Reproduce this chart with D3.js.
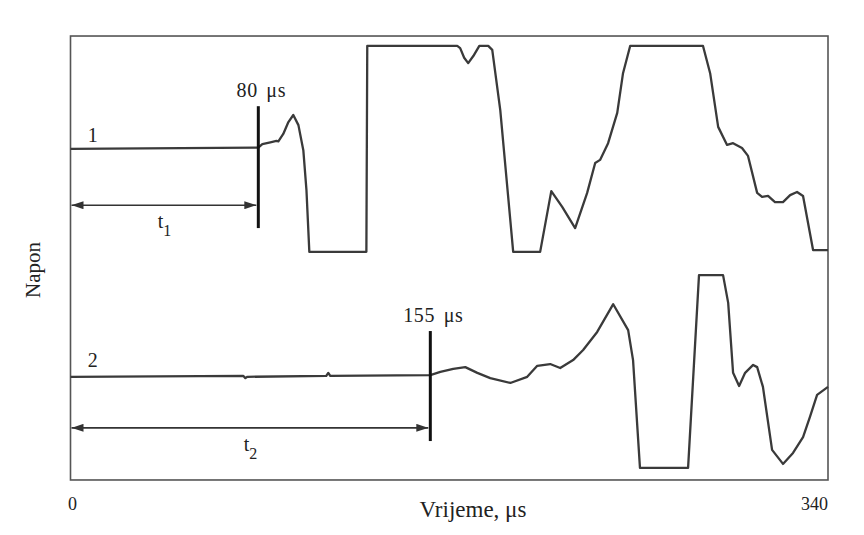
<!DOCTYPE html>
<html>
<head>
<meta charset="utf-8">
<script src="https://cdn.jsdelivr.net/npm/d3@7"></script>
<style>
  body { margin: 0; background: #fff; }
  text { font-family: "Liberation Serif", "DejaVu Serif", serif; fill: #222; }
</style>
</head>
<body>
<div id="container"></div>
<script>
"use strict";

const width = 864;
const height = 535;

// time in microseconds, voltage in arbitrary units (0..100)
const trace1 = [
  [0, 74.8], [84.3, 75.1], [86.1, 75.9], [89.7, 76.3], [92.4, 76.6], [93.3, 76.5],
  [95.5, 78.2], [97.8, 80.9], [100.0, 82.5], [102.3, 80.2], [104.5, 74.5],
  [105.9, 65.5], [107.2, 51.4], [132.8, 51.4], [133.2, 98.2], [173.6, 98.2],
  [174.9, 97.7], [176.7, 95.5], [178.5, 94.3], [180.8, 95.9], [183.5, 98.2],
  [187.5, 98.2], [189.3, 97.3], [192.9, 83.6], [198.7, 51.4], [210.8, 51.4],
  [215.8, 65.2], [220.7, 61.6], [226.5, 56.8], [231.9, 64.8], [235.5, 71.6],
  [237.7, 72.3], [241.3, 76.1], [245.4, 83.0], [248.0, 92.0], [251.2, 98.2],
  [283.9, 98.2], [287.1, 92.0], [290.7, 79.8], [294.7, 75.7], [297.4, 76.1],
  [301.4, 75.0], [304.1, 73.2], [308.2, 64.8], [310.4, 63.9], [313.1, 64.1],
  [316.2, 62.7], [319.8, 62.7], [323.0, 64.3], [326.1, 65.0], [328.8, 64.1],
  [333.3, 51.8], [340, 51.8]
];

const trace2 = [
  [0, 23.0], [77.6, 23.2], [78.5, 22.7], [79.4, 23.0], [114.8, 23.2],
  [115.7, 23.9], [116.6, 23.2], [161.5, 23.4], [166.0, 24.1], [171.8, 24.8],
  [177.2, 25.2], [182.6, 23.9], [188.4, 22.7], [197.4, 21.6], [205.0, 23.0],
  [209.5, 25.5], [215.3, 25.9], [219.8, 25.0], [225.6, 26.8], [230.1, 29.1],
  [236.4, 33.2], [243.6, 39.5], [250.3, 33.6], [252.5, 26.8], [255.6, 2.3],
  [277.2, 2.3], [282.1, 46.1], [292.9, 46.1], [295.2, 39.8], [297.4, 23.9],
  [300.1, 20.9], [302.8, 23.9], [306.4, 25.7], [308.2, 25.2], [310.8, 20.7],
  [314.9, 6.4], [319.8, 3.2], [324.3, 5.7], [328.8, 9.3], [331.9, 13.9],
  [335.1, 18.9], [340, 20.7]
];

const traceNames = ["1", "2"];
const traceLabelT = [10, 10];
const traceLabelV = [76.4, 25.2];

const markerT = [84.3, 161.5];
const markerLabels = ["80 μs", "155 μs"];
const markerTop = [84.5, 33.4];
const markerBottom = [56.8, 8.4];
const arrowV = [62.0, 11.4];
const intervalSub = ["1", "2"];

const xTicks = [0, 340];
const xTitle = "Vrijeme, μs";
const yTitle = "Napon";
const vMin = -0.45, vMax = 100.45;

const x = d3.scaleLinear().domain([0, 340]).range([70.5, 828]);
const y = d3.scaleLinear().domain([0, 100]).range([478, 38]);

const svg = d3.select("#container").append("svg")
  .attr("width", width)
  .attr("height", height);

// arrow heads
const defs = svg.append("defs");
defs.append("marker")
  .attr("id", "ah")
  .attr("viewBox", "0 0 12 8")
  .attr("refX", 12).attr("refY", 4)
  .attr("markerWidth", 12).attr("markerHeight", 8)
  .attr("markerUnits", "userSpaceOnUse")
  .attr("orient", "auto-start-reverse")
  .append("path")
  .attr("d", "M0,0 L12,4 L0,8 Z")
  .attr("fill", "#333");

// frame
svg.append("rect")
  .attr("x", x(0)).attr("y", y(vMax))
  .attr("width", x(340) - x(0))
  .attr("height", y(vMin) - y(vMax))
  .attr("fill", "none")
  .attr("stroke", "#555")
  .attr("stroke-width", 1.6);

// traces
const line = d3.line().x(d => x(d[0])).y(d => y(d[1]));
svg.selectAll(".trace")
  .data([trace1, trace2])
  .enter().append("path")
  .attr("class", "trace")
  .attr("d", line)
  .attr("fill", "none")
  .attr("stroke", "#3a3a3a")
  .attr("stroke-width", 2.3)
  .attr("stroke-linejoin", "round");

// trace numbers
svg.selectAll(".tname")
  .data(traceNames)
  .enter().append("text")
  .attr("x", (d, i) => x(traceLabelT[i]))
  .attr("y", (d, i) => y(traceLabelV[i]))
  .attr("text-anchor", "middle")
  .attr("font-size", 20)
  .text(d => d);

// arrival markers
markerT.forEach((t, i) => {
  svg.append("line")
    .attr("x1", x(t)).attr("x2", x(t))
    .attr("y1", y(markerTop[i])).attr("y2", y(markerBottom[i]))
    .attr("stroke", "#111")
    .attr("stroke-width", 3);

  svg.append("text")
    .attr("x", x(t) + 3)
    .attr("y", y(markerTop[i]) - 9)
    .attr("text-anchor", "middle")
    .attr("font-size", 20)
    .attr("word-spacing", 3)
    .attr("letter-spacing", 0.6)
    .text(markerLabels[i]);

  // double arrow t_i
  svg.append("line")
    .attr("x1", x(0) + 1).attr("x2", x(t) - 2)
    .attr("y1", y(arrowV[i])).attr("y2", y(arrowV[i]))
    .attr("stroke", "#333")
    .attr("stroke-width", 1.6)
    .attr("marker-start", "url(#ah)")
    .attr("marker-end", "url(#ah)");

  const lbl = svg.append("text")
    .attr("x", (x(0) + x(t)) / 2)
    .attr("y", y(arrowV[i]) + 23)
    .attr("text-anchor", "middle")
    .attr("font-size", 20);
  lbl.append("tspan").text("t");
  lbl.append("tspan").attr("dy", 8).attr("font-size", 16).text(intervalSub[i]);
});

// axis labels
svg.selectAll(".xtick")
  .data(xTicks)
  .enter().append("text")
  .attr("x", (d, i) => i === 0 ? x(d) + 2 : x(d))
  .attr("y", 510)
  .attr("text-anchor", (d, i) => i === 0 ? "middle" : "end")
  .attr("font-size", 18)
  .text(d => d);

svg.append("text")
  .attr("x", 473)
  .attr("y", 517)
  .attr("text-anchor", "middle")
  .attr("font-size", 23)
  .text(xTitle);

svg.append("text")
  .attr("transform", "translate(40,270) rotate(-90)")
  .attr("text-anchor", "middle")
  .attr("font-size", 21)
  .text(yTitle);
</script>
</body>
</html>
